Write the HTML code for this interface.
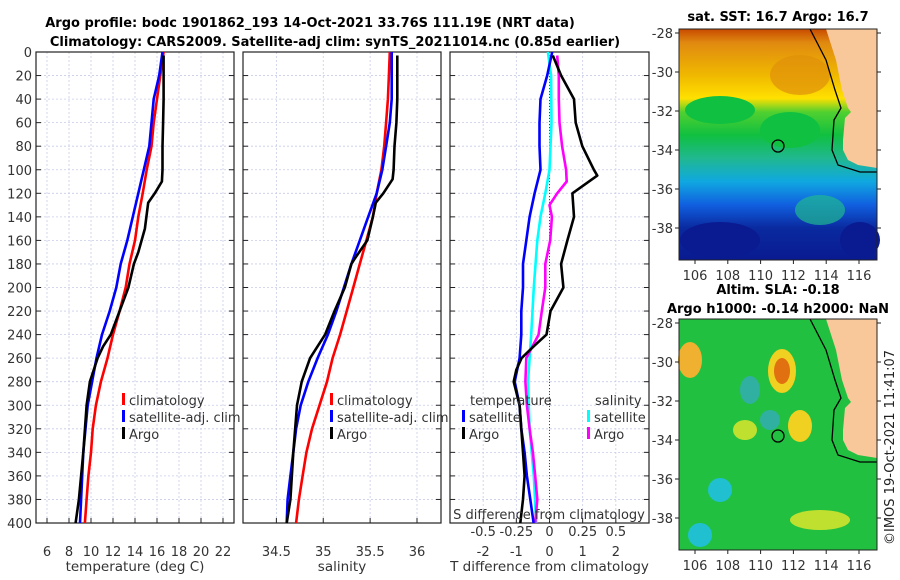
<!DOCTYPE html>
<html><head><meta charset="utf-8">
<style>
body{margin:0;background:#fff;}
svg{display:block;font-family:"DejaVu Sans","Liberation Sans",sans-serif;}
</style></head>
<body>
<svg id="fig" width="900" height="580" viewBox="0 0 900 580" xmlns="http://www.w3.org/2000/svg">
<rect width="900" height="580" fill="#fff"/>
<text x="310" y="27" text-anchor="middle" font-size="13" font-weight="bold">Argo profile: bodc 1901862_193 14-Oct-2021 33.76S 111.19E (NRT data)</text>
<text x="335" y="46" text-anchor="middle" font-size="13" font-weight="bold">Climatology: CARS2009. Satellite-adj clim: synTS_20211014.nc (0.85d earlier)</text>
<g id="p1"></g>
<g id="p2"></g>
<g id="p3"></g>
<defs>
<linearGradient id="sstg" x1="0" y1="0" x2="0" y2="1">
<stop offset="0" stop-color="#c84a00"/><stop offset="0.06" stop-color="#e08a10"/>
<stop offset="0.2" stop-color="#f0b800"/><stop offset="0.3" stop-color="#ffe000"/>
<stop offset="0.36" stop-color="#50d030"/><stop offset="0.46" stop-color="#10c040"/>
<stop offset="0.56" stop-color="#20b890"/><stop offset="0.66" stop-color="#10a8e0"/>
<stop offset="0.76" stop-color="#1060e0"/><stop offset="0.86" stop-color="#0a2aa0"/>
<stop offset="1" stop-color="#0a1a90"/></linearGradient>
</defs>
<g>
<text x="778" y="21" text-anchor="middle" font-size="13" font-weight="bold">sat. SST: 16.7 Argo: 16.7</text>
<rect x="679" y="29" width="198" height="231" fill="url(#sstg)"/>
<ellipse cx="720" cy="110" rx="35" ry="14" fill="#10c040"/>
<ellipse cx="790" cy="130" rx="30" ry="18" fill="#10c040"/>
<ellipse cx="800" cy="75" rx="30" ry="20" fill="#e0900a" opacity="0.7"/>
<ellipse cx="720" cy="240" rx="40" ry="18" fill="#0a1a90"/>
<ellipse cx="860" cy="240" rx="20" ry="18" fill="#0a1a90"/>
<ellipse cx="820" cy="210" rx="25" ry="15" fill="#20b890" opacity="0.7"/>
<path d="M826,29 L836,60 L842,90 L848,108 L851,112 L845,118 L843,140 L843,150 L848,160 L858,165 L877,168 L877,29 Z" fill="#f9c89a"/>
<path d="M810,29 L826,60 L835,90 L841,108 L834,120 L832,150 L838,165 L860,172 L877,172" fill="none" stroke="#000" stroke-width="1.3"/>
<circle cx="778" cy="146" r="6" fill="none" stroke="#000" stroke-width="1.3"/>
<rect x="679" y="29" width="198" height="231" fill="none" stroke="#222"/>
</g>
<g>
<text x="778" y="294" text-anchor="middle" font-size="13" font-weight="bold">Altim. SLA: -0.18</text>
<text x="778" y="313" text-anchor="middle" font-size="13" font-weight="bold">Argo h1000: -0.14 h2000: NaN</text>
<rect x="679" y="319" width="198" height="231" fill="#22c040"/>
<ellipse cx="782" cy="371" rx="14" ry="22" fill="#f0d020"/><ellipse cx="782" cy="371" rx="8" ry="13" fill="#e07010"/>
<ellipse cx="800" cy="426" rx="12" ry="16" fill="#f0d020"/>
<ellipse cx="690" cy="360" rx="12" ry="18" fill="#f0b030"/>
<ellipse cx="720" cy="490" rx="12" ry="12" fill="#20c0d0"/>
<ellipse cx="750" cy="390" rx="10" ry="14" fill="#30b0a0"/>
<ellipse cx="745" cy="430" rx="12" ry="10" fill="#c0e030"/>
<ellipse cx="770" cy="420" rx="10" ry="10" fill="#30b0a0"/>
<ellipse cx="820" cy="520" rx="30" ry="10" fill="#c0e030"/>
<ellipse cx="700" cy="535" rx="12" ry="12" fill="#20c0d0"/>
<path d="M826,319 L836,350 L842,380 L848,398 L851,402 L845,408 L843,430 L843,440 L848,450 L858,455 L877,458 L877,319 Z" fill="#f9c89a"/>
<path d="M810,319 L826,350 L835,380 L841,398 L834,410 L832,440 L838,455 L860,462 L877,462" fill="none" stroke="#000" stroke-width="1.3"/>
<circle cx="778" cy="436" r="6" fill="none" stroke="#000" stroke-width="1.3"/>
<rect x="679" y="319" width="198" height="231" fill="none" stroke="#222"/>
</g>
<text transform="translate(894,545) rotate(-90)" font-size="13" fill="#222">©IMOS 19-Oct-2021 11:41:07</text>
<g id="maxes"></g>
</svg>
<script>
const depthTicks=[0,20,40,60,80,100,120,140,160,180,200,220,240,260,280,300,320,340,360,380,400];
const tempTicks=[6,8,10,12,14,16,18,20,22];
const salTicks=[34.5,35,35.5,36];
const tdTicks=[-2,-1,0,1,2];
const sdTicks=[-0.5,-0.25,0,0.25,0.5];
const tDepth=[0,20,40,60,80,100,120,140,160,180,200,220,240,260,280,300,320,340,360,380,400];
const tClim=[16.6,16.3,16.0,15.7,15.5,15.06,14.7,14.3,14.0,13.5,13.15,12.6,12.0,11.5,10.9,10.45,10.15,10.0,9.76,9.6,9.45];
const tSat=[16.5,16.2,15.7,15.5,15.3,14.8,14.3,13.8,13.3,12.7,12.3,11.7,11.0,10.5,10.1,9.7,9.5,9.3,9.2,9.1,9.0];
const aDepthT=[3,20,40,60,80,100,110,120,128,150,170,180,200,220,240,250,260,280,300,340,380,400];
const tArgo=[16.6,16.6,16.6,16.55,16.5,16.5,16.45,15.8,15.2,14.9,14.3,13.9,13.4,12.6,11.8,11.1,10.6,9.9,9.6,9.3,8.9,8.6];
const sClim=[35.71,35.70,35.69,35.67,35.65,35.62,35.57,35.53,35.46,35.39,35.32,35.25,35.18,35.10,35.04,34.96,34.88,34.82,34.78,34.74,34.71];
const sSat=[35.73,35.73,35.73,35.71,35.67,35.63,35.57,35.48,35.39,35.30,35.22,35.14,35.05,34.94,34.84,34.76,34.71,34.68,34.65,34.62,34.61];
const aDepthS=[3,40,60,80,100,108,120,128,140,160,175,180,200,220,240,260,280,300,340,380,400];
const sArgo=[35.79,35.79,35.78,35.76,35.75,35.74,35.64,35.56,35.53,35.47,35.34,35.30,35.23,35.12,35.02,34.86,34.77,34.72,34.68,34.65,34.61];
const dtSat=[0.08,-0.07,-0.27,-0.3,-0.3,-0.27,-0.45,-0.6,-0.7,-0.8,-0.8,-0.85,-0.85,-0.9,-1.05,-0.9,-0.85,-0.75,-0.68,-0.58,-0.48];
const dDepthArgo=[3,20,40,60,80,100,105,120,140,160,180,200,220,240,250,260,270,280,300,320,340,360,380,400];
const dtArgo=[0.1,0.35,0.74,0.79,0.99,1.34,1.44,0.69,0.74,0.54,0.35,0.42,0.03,-0.09,-0.48,-0.84,-1.0,-1.08,-0.9,-0.85,-0.8,-0.75,-0.8,-0.88];
const sdDepthSat=[0,20,60,100,120,140,160,200,240,280,320,360,400];
const dsSat=[-0.012,0.012,0.015,0.0,-0.032,-0.068,-0.092,-0.118,-0.138,-0.162,-0.15,-0.118,-0.1];
const sdDepthArgo=[3,20,40,60,80,100,110,120,130,140,160,180,200,220,240,260,280,300,320,340,360,380,400];
const dsArgo=[0.058,0.07,0.07,0.075,0.095,0.125,0.13,0.058,0.0,0.018,0.005,-0.032,-0.032,-0.058,-0.082,-0.175,-0.182,-0.17,-0.15,-0.125,-0.108,-0.092,-0.108];
const lonTicks=[106,108,110,112,114,116];
const latTicks=[-28,-30,-32,-34,-36,-38];

const NS='http://www.w3.org/2000/svg';
const TOP=52,BOT=523;
const yD=d=>TOP+d*(BOT-TOP)/400;
function el(p,t,a){const e=document.createElementNS(NS,t);for(const k in a)e.setAttribute(k,a[k]);p.appendChild(e);return e;}
function txt(p,x,y,s,anc,size){const e=el(p,'text',{x:x,y:y,'text-anchor':anc||'middle','font-size':size||13,fill:'#333'});e.textContent=s;return e;}
function panel(g,x0,x1,dom,ticks,xlabel,showY){
  const xs=v=>x0+(v-dom[0])/(dom[1]-dom[0])*(x1-x0);
  depthTicks.forEach(d=>{const l=el(g,'line',{x1:x0,x2:x1,y1:yD(d),y2:yD(d),stroke:'#c8cce8','stroke-dasharray':'2,2','stroke-width':0.8});
    
    el(g,'line',{x1:x0,x2:x0+5,y1:yD(d),y2:yD(d),stroke:'#222'});el(g,'line',{x1:x1-5,x2:x1,y1:yD(d),y2:yD(d),stroke:'#222'});
    if(showY){const t=txt(g,x0-4,yD(d)+5,String(d),'end');}});
  ticks.forEach(v=>{const l=el(g,'line',{x1:xs(v),x2:xs(v),y1:TOP,y2:BOT,stroke:'#c8cce8','stroke-dasharray':'2,2','stroke-width':0.8});
    
    el(g,'line',{x1:xs(v),x2:xs(v),y1:BOT,y2:BOT-5,stroke:'#222'});
    const t=txt(g,xs(v),BOT+33,String(v));});
  const r=el(g,'rect',{x:x0,y:TOP,width:x1-x0,height:BOT-TOP,fill:'none',stroke:'#222','stroke-width':1.2});
  
  const xl=txt(g,(x0+x1)/2,BOT+48,xlabel,'middle',13.5);
  
  return xs;
}
function line(g,xs,vals,depths,color,name){
  const pts=vals.map((v,i)=>xs(v).toFixed(1)+','+yD(depths[i]).toFixed(1)).join(' ');
  const p=el(g,'polyline',{points:pts,fill:'none',stroke:color,'stroke-width':2.6,'stroke-linejoin':'round'});
  
}
function legend(g,x,y,items){items.forEach((it,i)=>{
  const m=el(g,'rect',{x:x,y:y+i*17-12,width:3,height:12,fill:it[1]});
  
  const t=txt(g,x+7,y+i*17,it[0],'start',13);});}

const g1=document.getElementById('p1');
const x1s=panel(g1,36,234,[5,23],tempTicks,'temperature (deg C)',true);
line(g1,x1s,tClim,tDepth,'#f00','temp-climatology-line');
line(g1,x1s,tSat,tDepth,'#00f','temp-satellite-line');
line(g1,x1s,tArgo,aDepthT,'#000','temp-argo-line');
legend(g1,122,405,[['climatology','#f00'],['satellite-adj. clim','#00f'],['Argo','#000']]);

const g2=document.getElementById('p2');
const x2s=panel(g2,243,441,[34.144,36.256],salTicks,'salinity',false);
line(g2,x2s,sClim,tDepth,'#f00','sal-climatology-line');
line(g2,x2s,sSat,tDepth,'#00f','sal-satellite-line');
line(g2,x2s,sArgo,aDepthS,'#000','sal-argo-line');
legend(g2,330,405,[['climatology','#f00'],['satellite-adj. clim','#00f'],['Argo','#000']]);

const g3=document.getElementById('p3');
const x3s=panel(g3,450,649,[-3,3],tdTicks,'T difference from climatology',false);
const s3=v=>x3s(v*4);
const z=el(g3,'line',{x1:x3s(0),x2:x3s(0),y1:TOP,y2:BOT,stroke:'#444','stroke-dasharray':'1,2'});

line(g3,v=>x3s(v*4),dsSat,sdDepthSat,'#0ff','sal-diff-satellite-line');
line(g3,v=>x3s(v*4),dsArgo,sdDepthArgo,'#f0f','sal-diff-argo-line');
line(g3,x3s,dtSat,tDepth,'#00f','temp-diff-satellite-line');
line(g3,x3s,dtArgo,dDepthArgo,'#000','temp-diff-argo-line');
let t=txt(g3,470,405,'temperature','start',13);
t=txt(g3,595,405,'salinity','start',13);
legend(g3,462,422,[['satellite','#00f'],['Argo','#000']]);
legend(g3,587,422,[['satellite','#0ff'],['Argo','#f0f']]);
t=txt(g3,549,519,'S difference from climatology','middle',13);
sdTicks.forEach(v=>{const e=txt(g3,s3(v),536,String(v),'middle',13);});

const gm=document.getElementById('maxes');
const lonX=v=>695+(v-106)*16.4;
[[29,260,280],[319,550,570]].forEach(m=>{
  lonTicks.forEach(v=>{el(gm,'line',{x1:lonX(v),x2:lonX(v),y1:m[1],y2:m[1]+4,stroke:'#222'});
    const e=txt(gm,lonX(v),m[2],String(v));});
  latTicks.forEach(v=>{const y=m[0]+4+(-28-v)*19.5;el(gm,'line',{x1:675,x2:679,y1:y,y2:y,stroke:'#222'});
    el(gm,'line',{x1:877,x2:881,y1:y,y2:y,stroke:'#222'});
    const e=txt(gm,673,y+5,String(v),'end');});
});
</script>
</body></html>
